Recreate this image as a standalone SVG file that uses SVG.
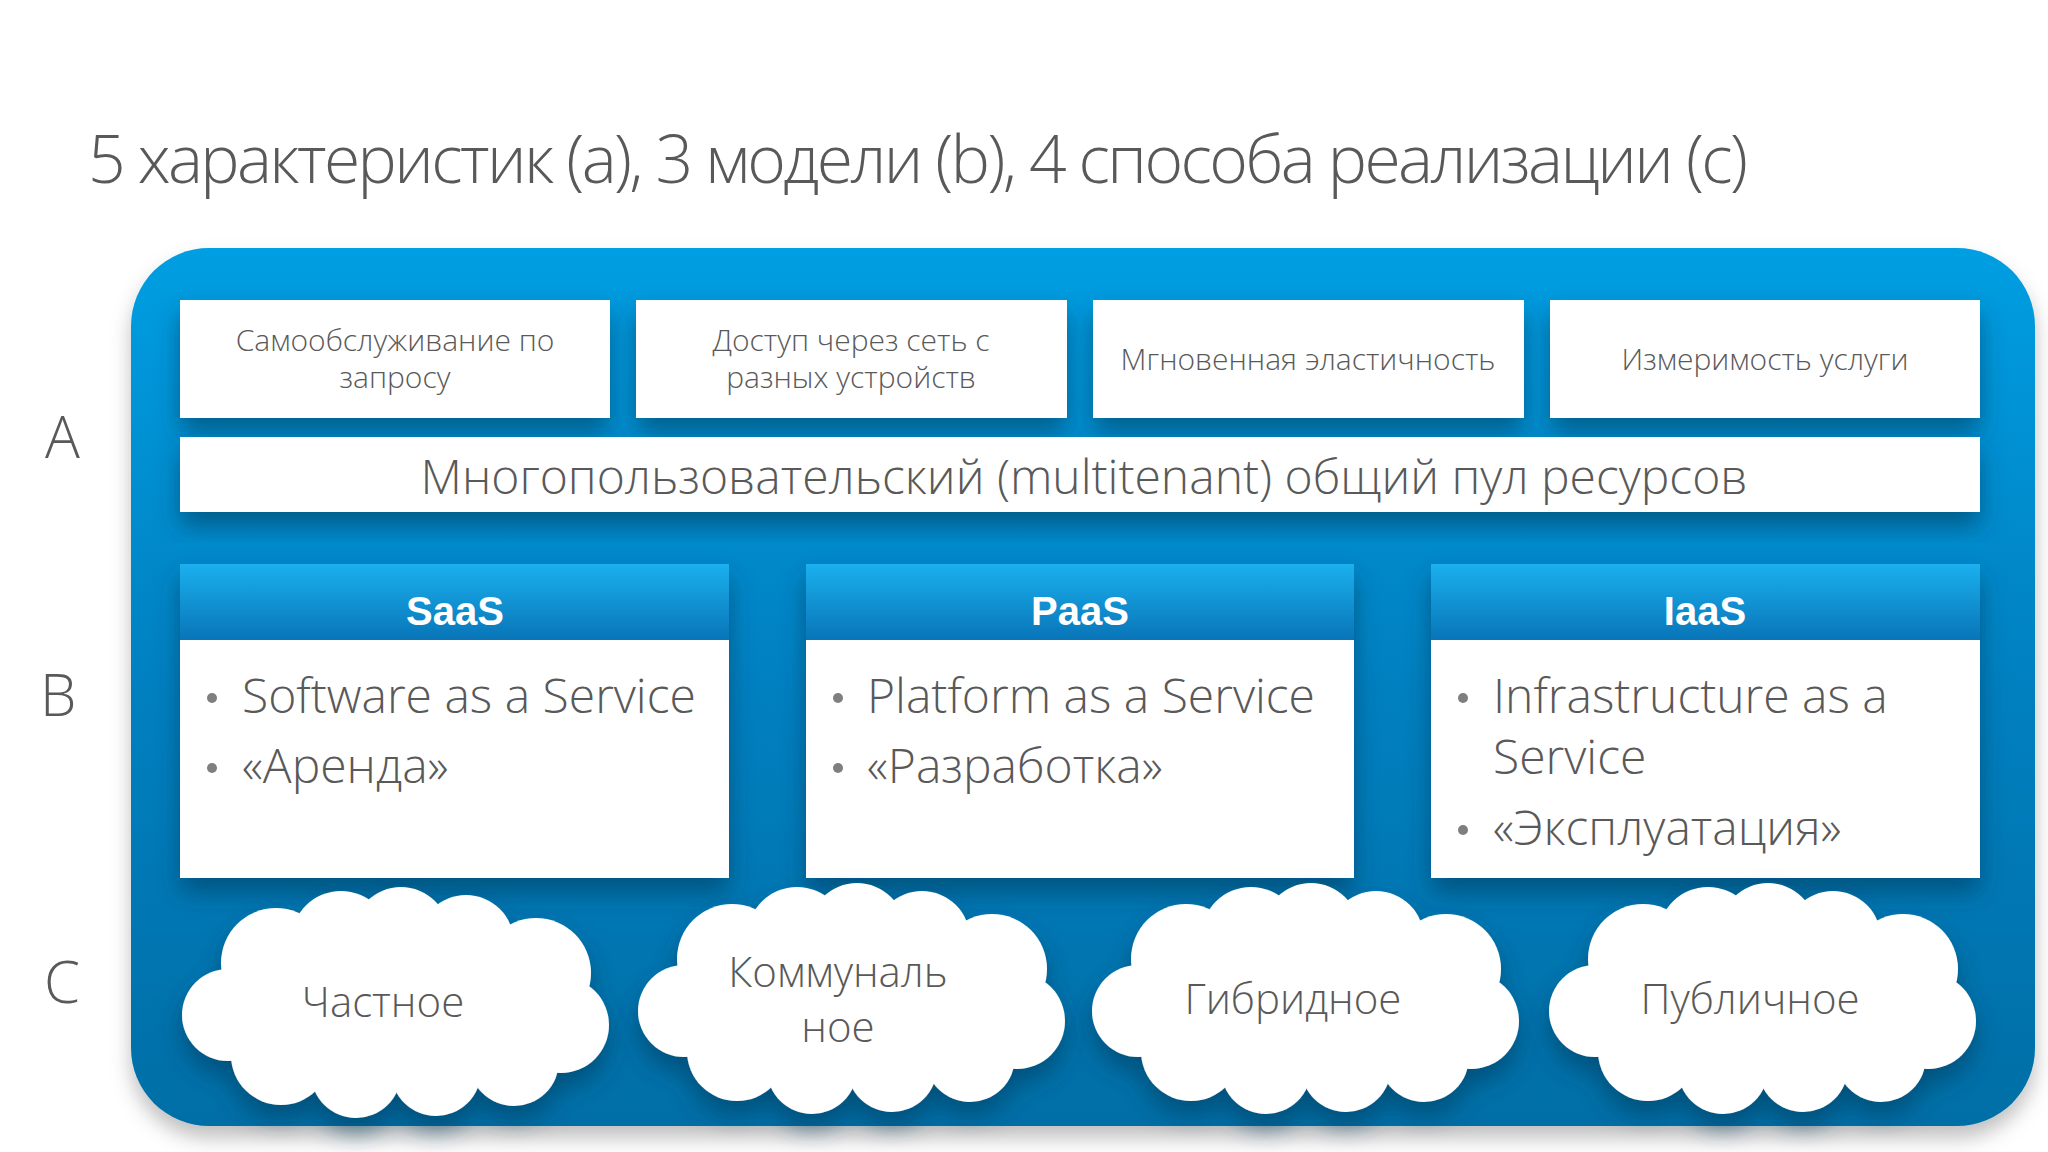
<svg xmlns="http://www.w3.org/2000/svg" width="2048" height="1152" viewBox="0 0 2048 1152">
<defs>
<linearGradient id="bg" x1="0" y1="0" x2="0" y2="1"><stop offset="0" stop-color="#049ee2"/><stop offset="0.5" stop-color="#0380c0"/><stop offset="1" stop-color="#046ea6"/></linearGradient>
<linearGradient id="hd" x1="0" y1="0" x2="0" y2="1"><stop offset="0" stop-color="#1bb0ee"/><stop offset="1" stop-color="#0875b8"/></linearGradient>
<filter id="sh" x="-10%" y="-20%" width="120%" height="160%"><feDropShadow dx="0" dy="14" stdDeviation="12" flood-color="#003a5e" flood-opacity="0.6"/></filter>
<filter id="osh" x="-5%" y="-5%" width="110%" height="115%"><feDropShadow dx="0" dy="12" stdDeviation="10" flood-color="#000" flood-opacity="0.25"/></filter>
<g id="cloud" fill="#fff">
<ellipse cx="0" cy="0" rx="160" ry="75"/>
<circle cx="-120" cy="-40" r="55"/><circle cx="-55" cy="-62" r="50"/><circle cx="5" cy="-68" r="48"/><circle cx="70" cy="-60" r="48"/><circle cx="140" cy="-30" r="55"/><circle cx="165" cy="22" r="48"/><circle cx="118" cy="58" r="45"/><circle cx="40" cy="68" r="45"/><circle cx="-40" cy="70" r="45"/><circle cx="-115" cy="52" r="50"/><circle cx="-168" cy="12" r="46"/>
</g>
</defs>
<style>
.t{font-family:"Open Sans","Noto Sans",sans-serif;font-weight:300;fill:#595959}
.box{fill:#fff;filter:url(#sh)}
.hdr{font-family:"Liberation Sans",Arial,sans-serif;font-weight:bold;fill:#fff;font-size:40px;text-anchor:middle}
.s{font-size:30px;text-anchor:middle}
.b{font-size:48px}
.c{font-size:42px;text-anchor:middle}
.dot{fill:#7f7f7f}
</style>
<rect width="2048" height="1152" fill="#fff"/>
<text class="t" x="88" y="183" font-size="66" textLength="1660">5 характеристик (a), 3 модели (b), 4 способа реализации (c)</text>
<text class="t" x="45" y="458" font-size="58">A</text>
<text class="t" x="40" y="716" font-size="58">B</text>
<text class="t" x="44" y="1003" font-size="58">C</text>
<rect id="container" x="131" y="248" width="1904" height="878" rx="78" fill="url(#bg)" filter="url(#osh)"/>
<g id="a1"><rect class="box" x="180" y="300" width="430" height="118"/><text class="t s" x="395" y="351">Самообслуживание по</text><text class="t s" x="395" y="388">запросу</text></g>
<g id="a2"><rect class="box" x="636" y="300" width="431" height="118"/><text class="t s" x="851" y="351">Доступ через сеть с</text><text class="t s" x="851" y="388">разных устройств</text></g>
<g id="a3"><rect class="box" x="1093" y="300" width="431" height="118"/><text class="t s" x="1308" y="370">Мгновенная эластичность</text></g>
<g id="a4"><rect class="box" x="1550" y="300" width="430" height="118"/><text class="t s" x="1765" y="370">Измеримость услуги</text></g>
<g id="a5"><rect class="box" x="180" y="437" width="1800" height="75"/><text class="t" x="1084" y="494" font-size="48" text-anchor="middle">Многопользовательский (multitenant) общий пул ресурсов</text></g>
<g id="saas"><rect class="box" x="180" y="564" width="549" height="314"/><rect x="180" y="564" width="549" height="76" fill="url(#hd)"/><text class="hdr" x="455" y="625">SaaS</text>
<circle class="dot" cx="212" cy="698" r="5"/><text class="t b" x="242" y="713">Software as a Service</text>
<circle class="dot" cx="212" cy="768" r="5"/><text class="t b" x="242" y="783">«Аренда»</text></g>
<g id="paas"><rect class="box" x="806" y="564" width="548" height="314"/><rect x="806" y="564" width="548" height="76" fill="url(#hd)"/><text class="hdr" x="1080" y="625">PaaS</text>
<circle class="dot" cx="838" cy="698" r="5"/><text class="t b" x="867" y="713">Platform as a Service</text>
<circle class="dot" cx="838" cy="768" r="5"/><text class="t b" x="867" y="783">«Разработка»</text></g>
<g id="iaas"><rect class="box" x="1431" y="564" width="549" height="314"/><rect x="1431" y="564" width="549" height="76" fill="url(#hd)"/><text class="hdr" x="1705" y="625">IaaS</text>
<circle class="dot" cx="1463" cy="698" r="5"/><text class="t b" x="1493" y="713">Infrastructure as a</text><text class="t b" x="1493" y="774">Service</text>
<circle class="dot" cx="1463" cy="830" r="5"/><text class="t b" x="1493" y="845">«Эксплуатация»</text></g>
<g id="c1" filter="url(#sh)"><use href="#cloud" transform="translate(396,1003)"/></g><text class="t c" x="383" y="1017">Частное</text>
<g id="c2" filter="url(#sh)"><use href="#cloud" transform="translate(852,999)"/></g><text class="t c" x="838" y="987">Коммуналь</text><text class="t c" x="838" y="1042">ное</text>
<g id="c3" filter="url(#sh)"><use href="#cloud" transform="translate(1306,999)"/></g><text class="t c" x="1293" y="1014">Гибридное</text>
<g id="c4" filter="url(#sh)"><use href="#cloud" transform="translate(1763,999)"/></g><text class="t c" x="1750" y="1014">Публичное</text>
<g id="connectors"/>
</svg>
